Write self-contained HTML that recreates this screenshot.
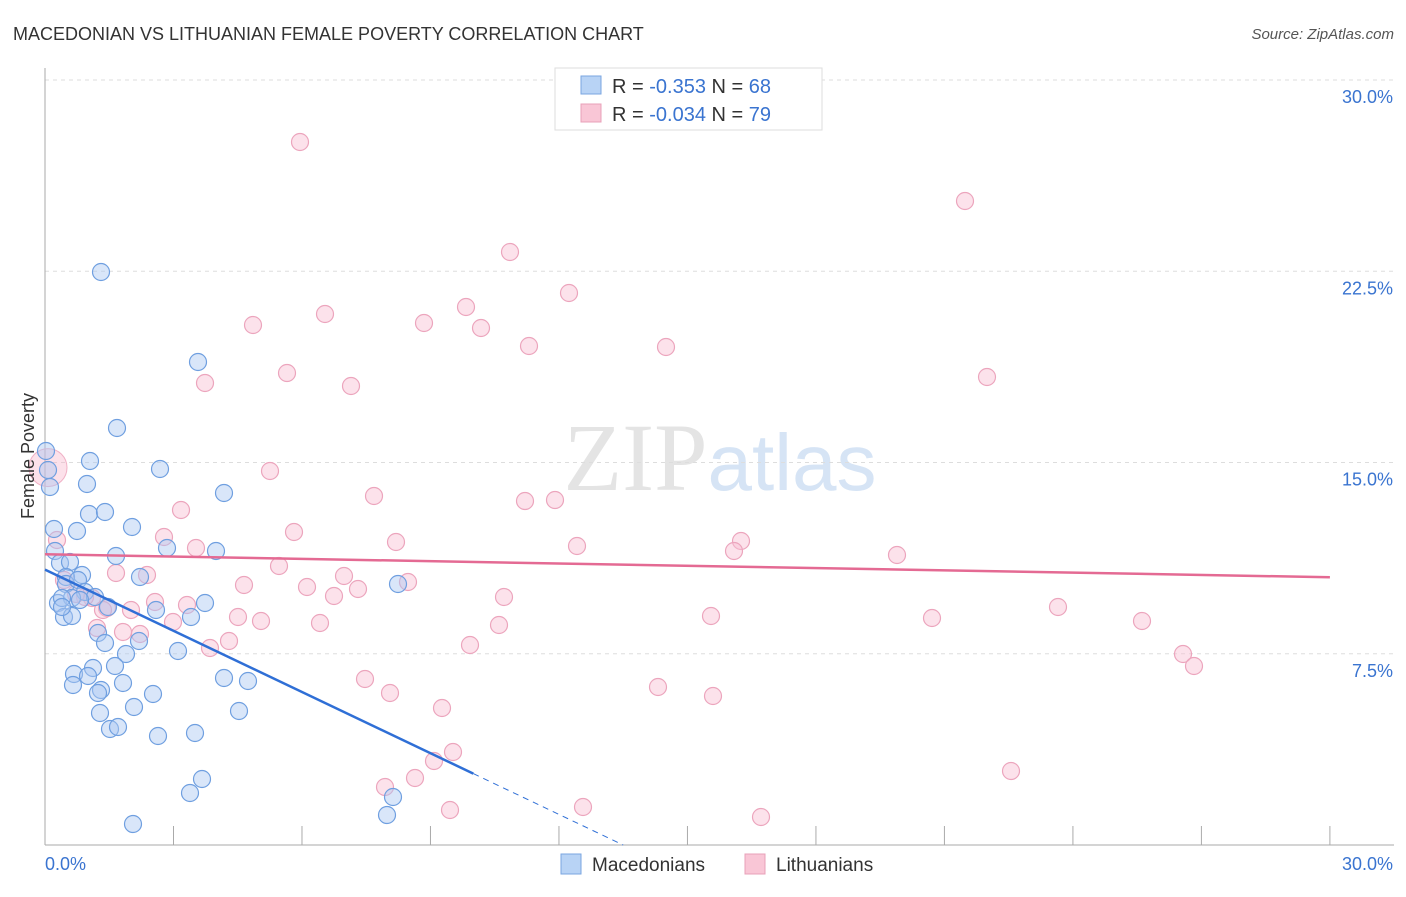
<!DOCTYPE html>
<html><head><meta charset="utf-8"><style>
body{margin:0;background:#fff;font-family:"Liberation Sans",sans-serif;}
</style></head><body>
<svg id="chart" width="1406" height="892" xmlns="http://www.w3.org/2000/svg" style="font-family:'Liberation Sans',sans-serif">
<text x="13" y="40" font-size="18" fill="#333">MACEDONIAN VS LITHUANIAN FEMALE POVERTY CORRELATION CHART</text>
<text x="1394" y="39" font-size="15" fill="#555" text-anchor="end" font-style="italic">Source: ZipAtlas.com</text>
<text x="720" y="490" font-size="96" text-anchor="middle" fill="#e4e4e4" font-family="Liberation Serif">ZIP<tspan fill="#d6e4f5" font-family="Liberation Sans" font-size="80">atlas</tspan></text>
<g id="grid"></g>
<g id="axes"></g>
<g id="pts"></g>
<g id="lines"></g>
<text transform="translate(34,456) rotate(-90)" font-size="18" fill="#333" text-anchor="middle">Female Poverty</text>
<g>
<rect x="555" y="68" width="267" height="62" fill="#fff" stroke="#ddd"/>
<rect x="581" y="76" width="20" height="18" fill="#b8d3f5" stroke="#7aa6e0"/>
<rect x="581" y="104" width="20" height="18" fill="#f9c6d6" stroke="#e8a0b8"/>
<text x="612" y="93" font-size="20" fill="#333">R = <tspan fill="#3a74d0">-0.353</tspan>   N = <tspan fill="#3a74d0">68</tspan></text>
<text x="612" y="121" font-size="20" fill="#333">R = <tspan fill="#3a74d0">-0.034</tspan>   N = <tspan fill="#3a74d0">79</tspan></text>
</g>
<g>
<rect x="561" y="854" width="20" height="20" fill="#b8d3f5" stroke="#7aa6e0"/>
<text x="592" y="871" font-size="19" fill="#333">Macedonians</text>
<rect x="745" y="854" width="20" height="20" fill="#f9c6d6" stroke="#e8a0b8"/>
<text x="776" y="871" font-size="19" fill="#333">Lithuanians</text>
</g>
</svg>
<script>
const yTicks=[7.5,15,22.5,30];
const yTickLabels=["7.5%","15.0%","22.5%","30.0%"];
const xTickLabels=["0.0%","30.0%"];
const bluePts=[[101,272],[198,362],[117,428],[90,461],[46,451],[50,487],[87,484],[160,469],[224,493],[89,514],[105,512],[54,529],[77,531],[132,527],[116,556],[167,548],[216,551],[55,551],[60,563],[70,562],[82,575],[66,577],[140,577],[66,584],[78,580],[85,592],[95,597],[58,603],[72,598],[62,598],[108,607],[156,610],[205,603],[191,617],[64,617],[72,616],[98,633],[105,643],[139,641],[178,651],[126,654],[115,666],[93,668],[74,674],[88,676],[123,683],[73,685],[101,690],[98,693],[153,694],[224,678],[248,681],[134,707],[100,713],[239,711],[110,729],[118,727],[158,736],[195,733],[202,779],[190,793],[133,824],[398,584],[393,797],[387,815],[48,470],[62,607],[80,600]];
const pinkPts=[[300,142],[965,201],[510,252],[569,293],[253,325],[325,314],[424,323],[466,307],[481,328],[529,346],[666,347],[287,373],[205,383],[351,386],[987,377],[270,471],[374,496],[525,501],[555,500],[181,510],[294,532],[396,542],[577,546],[741,541],[734,551],[897,555],[164,537],[196,548],[57,540],[279,566],[116,573],[147,575],[244,585],[344,576],[358,589],[307,587],[334,596],[408,582],[504,597],[131,610],[187,605],[107,608],[155,602],[238,617],[261,621],[320,623],[499,625],[711,616],[932,618],[1058,607],[1142,621],[173,622],[123,632],[97,628],[140,634],[229,641],[210,648],[470,645],[1183,654],[1194,666],[365,679],[390,693],[658,687],[713,696],[442,708],[453,752],[434,761],[415,778],[385,787],[583,807],[450,810],[761,817],[1011,771],[92,598],[85,597],[76,594],[103,610],[64,580]];
// convert pixel estimates to data (percent)
const blue=bluePts.map(p=>[(p[0]-45)/42.83,(845-p[1])/25.5]);
const pink=pinkPts.map(p=>[(p[0]-45)/42.83,(845-p[1])/25.5]);
const blueTrend=[[0,10.8],[10,2.8],[13.5,0]];
const pinkTrend=[[0,11.4],[30,10.5]];
const X=v=>45+v*42.83, Y=v=>845-v*25.5;
const NS="http://www.w3.org/2000/svg";
function mk(t,a,p){const e=document.createElementNS(NS,t);for(const k in a)e.setAttribute(k,a[k]);p.appendChild(e);return e;}
const grid=document.getElementById('grid'),axes=document.getElementById('axes'),pts=document.getElementById('pts'),lines=document.getElementById('lines');
yTicks.forEach((t,i)=>{
 const g=mk('line',{x1:45,x2:1394,y1:Y(t),y2:Y(t),stroke:'#ddd','stroke-dasharray':'4,4'},grid);
 
 
 const l=mk('text',{x:1393,y:Y(t)+23,'font-size':18,fill:'#3a74d0','text-anchor':'end'},axes);
 l.textContent=yTickLabels[i];
 
 
});
mk('line',{x1:45,x2:45,y1:68,y2:845,stroke:'#aaa'},axes);
mk('line',{x1:45,x2:1394,y1:845,y2:845,stroke:'#aaa'},axes);
for(let i=0;i<=10;i++){const t=mk('line',{x1:X(i*3),x2:X(i*3),y1:826,y2:845,stroke:'#aaa'},axes);
 
 }
const x0=mk('text',{x:45,y:870,'font-size':18,fill:'#3a74d0'},axes);x0.textContent=xTickLabels[0];


const x1=mk('text',{x:1393,y:870,'font-size':18,fill:'#3a74d0','text-anchor':'end'},axes);x1.textContent=xTickLabels[1];


const big=mk('circle',{cx:X(0.07),cy:Y(14.8),r:19,fill:'rgba(245,170,195,0.35)',stroke:'#f0b0c5'},pts);


pink.forEach(p=>{const c=mk('circle',{cx:X(p[0]),cy:Y(p[1]),r:8.5,fill:'rgba(248,190,210,0.45)',stroke:'#eca5bd','stroke-width':1.2},pts);
 
 });
blue.forEach(p=>{const c=mk('circle',{cx:X(p[0]),cy:Y(p[1]),r:8.5,fill:'rgba(170,200,242,0.45)',stroke:'#6f9fe0','stroke-width':1.2},pts);
 
 });
const bl=mk('line',{x1:X(blueTrend[0][0]),y1:Y(blueTrend[0][1]),x2:X(blueTrend[1][0]),y2:Y(blueTrend[1][1]),stroke:'#2f6fd6','stroke-width':2.5},lines);


const bd=mk('line',{x1:X(blueTrend[1][0]),y1:Y(blueTrend[1][1]),x2:X(blueTrend[2][0]),y2:Y(blueTrend[2][1]),stroke:'#2f6fd6','stroke-width':1,'stroke-dasharray':'6,5'},lines);


const pl=mk('line',{x1:X(pinkTrend[0][0]),y1:Y(pinkTrend[0][1]),x2:X(pinkTrend[1][0]),y2:Y(pinkTrend[1][1]),stroke:'#e46a93','stroke-width':2.5},lines);


</script>
</body></html>
